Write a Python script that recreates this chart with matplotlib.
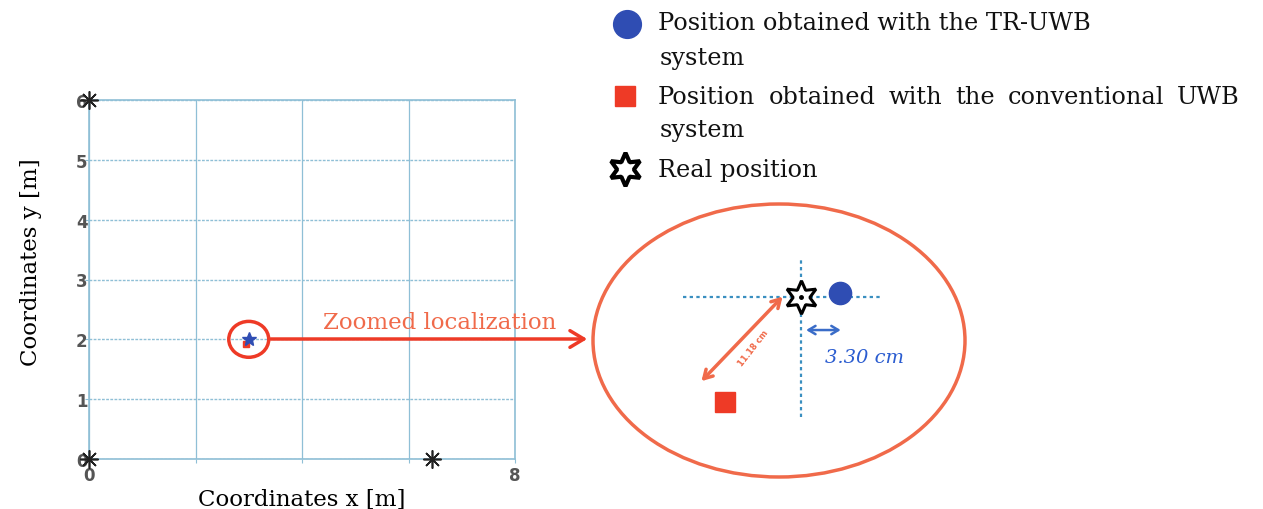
import matplotlib
matplotlib.use("Agg")
import matplotlib.pyplot as plt
from matplotlib.patches import Ellipse

# main room view (metres)
anchors_x = [0.0, 0.0, 6.45]
anchors_y = [0.0, 6.0, 0.0]
real_pos = (3.0, 2.0)
tr_uwb_pos = (3.03, 2.0)
conv_uwb_pos = (2.94, 1.93)

# zoomed view (cm, relative to the real position)
zoom_real = (0.0, 0.0)
zoom_tr = (3.30, 0.35)
zoom_conv = (-6.4, -8.9)
err_tr_label = "3.30 cm"
err_conv_label = "11.18 cm"

legend_labels = ["Position obtained with the TR-UWB", "system",
                 "Position obtained with the conventional UWB", "system",
                 "Real position"]

RED = "#ee3a26"
ORANGE = "#f06a4a"
BLUE = "#2f4db3"
GRID = "#8fbfd6"
SERIF = ["DejaVu Serif"]
STAR = (6, 1, 0)
AST = (8, 2, 0)

fig = plt.figure(figsize=(12.63, 5.10), dpi=100)

# overlay in pixel coordinates for decorations
ov = fig.add_axes([0, 0, 1, 1], zorder=5)
ov.set_xlim(0, 1263)
ov.set_ylim(510, 0)
ov.axis("off")
ov.patch.set_alpha(0)

# ---- main plot
ax = fig.add_axes([89 / 1263, 50 / 510, 426 / 1263, 359 / 510])
ax.set_xlim(0, 8)
ax.set_ylim(0, 6)
ax.set_xticks([0, 2, 4, 6, 8])
ax.set_xticklabels(["0", "", "", "", "8"])
ax.set_yticks(range(7))
for s in ax.spines.values():
    s.set_color(GRID)
    s.set_linewidth(1.2)
ax.tick_params(colors=GRID, labelcolor="#555555", labelsize=12, length=3)
for lab in ax.get_xticklabels() + ax.get_yticklabels():
    lab.set_fontweight("bold")
ax.tick_params(axis="x", pad=2)
ax.tick_params(axis="y", pad=-2)
ax.xaxis.grid(True, color=GRID, lw=0.9, ls="-")
ax.yaxis.grid(True, color=GRID, lw=1.0, ls=(0, (2, 1)))
ax.set_xlabel("Coordinates x [m]", family=SERIF, fontsize=16.5, labelpad=3)
ax.set_ylabel("Coordinates y [m]", family=SERIF, fontsize=16.5)
ax.yaxis.set_label_coords(-0.11, 0.55)

ax.plot(anchors_x, anchors_y, ls="none", marker=AST, color="#222222",
        ms=13, mew=1.2, clip_on=False, zorder=6)
ax.plot(*conv_uwb_pos, marker="s", color=RED, ms=5, ls="none", zorder=6)
ax.plot(*real_pos, marker="*", color=BLUE, ms=10, ls="none", zorder=7)
ax.add_patch(Ellipse(real_pos, 0.75, 0.6, fill=False, ec=RED, lw=2.5,
                     zorder=6))

# connector arrow + label
ov.annotate("", xy=(590, 340), xytext=(268, 340),
            arrowprops=dict(arrowstyle="->,head_length=1.0,head_width=0.6",
                            color=RED, lw=2.5))
ov.text(440, 323, "Zoomed localization", color=ORANGE, family=SERIF,
        fontsize=16.5, ha="center", va="center")

# ---- zoomed view
px = 11.8
zx = fig.add_axes([593 / 1263, 32 / 510, 372 / 1263, 273 / 510])
zx.set_xlim(-(801 - 593) / px, (965 - 801) / px)
zx.set_ylim(-(478 - 298) / px, (298 - 205) / px)
zx.axis("off")
zx.patch.set_alpha(0)
zx.add_patch(Ellipse((0.5, 0.5), 1, 1, transform=zx.transAxes, fill=False,
                     ec=ORANGE, lw=2.5, clip_on=False))
zx.plot([-10, 6.7], [0, 0], color="#3a8fc0", ls=(0, (1.5, 1.5)), lw=1.6)
zx.plot([0, 0], [-10.2, 3.2], color="#3a8fc0", ls=(0, (1.5, 1.5)), lw=1.6)
zx.plot(*zoom_tr, marker="o", color=BLUE, ms=16, ls="none")
zx.plot(*zoom_conv, marker="s", color=RED, ms=14, ls="none")
zx.plot(*zoom_real, marker=STAR, mfc="white", mec="black", mew=2.2, ms=24,
        ls="none", zorder=5)
zx.plot(*zoom_real, marker="o", color="black", ms=2.5, ls="none", zorder=6)
zx.annotate("", xy=(zoom_conv[0] - 2.2, zoom_conv[1] + 1.6),
            xytext=(zoom_real[0] - 1.4, zoom_real[1] + 0.2),
            arrowprops=dict(arrowstyle="<->,head_length=0.6,head_width=0.35",
                            color=ORANGE, lw=2.5))
zx.text(-4.0, -4.3, err_conv_label, color=ORANGE, fontsize=6,
        fontweight="bold", rotation=52, ha="center", va="center")
zx.annotate("", xy=(zoom_tr[0] + 0.3, -2.8), xytext=(0.2, -2.8),
            arrowprops=dict(arrowstyle="<->,head_length=0.5,head_width=0.3",
                            color="#3a6cc8", lw=1.8))
zx.text(5.4, -5.1, err_tr_label, color="#2a5cd0", family=SERIF,
        fontsize=14, style="italic", ha="center", va="center")

# ---- legend
ov.plot(627, 25, marker="o", color=BLUE, ms=20, ls="none")
ov.plot(625, 97, marker="s", color=RED, ms=15, ls="none")
ov.plot(625, 170, marker=STAR, mfc="white", mec="black", mew=3, ms=24,
        ls="none")
lx = [658, 660, 658, 660, 658]
ly = [24, 58, 98, 131, 171]
lfont = dict(family=SERIF, fontsize=17.3, va="center", color="#111111")
renderer = fig.canvas.get_renderer()
for i, (t, x, y) in enumerate(zip(legend_labels, lx, ly)):
    if i != 2:
        ov.text(x, y, t, ha="left", **lfont)
        continue
    # justified line: spread words between x and the right edge
    words = t.split()
    arts = [ov.text(0, y, w, ha="left", **lfont) for w in words]
    widths = [a.get_window_extent(renderer).width for a in arts]
    gap = (1240 - x - sum(widths)) / (len(words) - 1)
    cur = x
    for a, w in zip(arts, widths):
        a.set_x(cur)
        cur += w + gap

fig.savefig("out.png", dpi=100)
